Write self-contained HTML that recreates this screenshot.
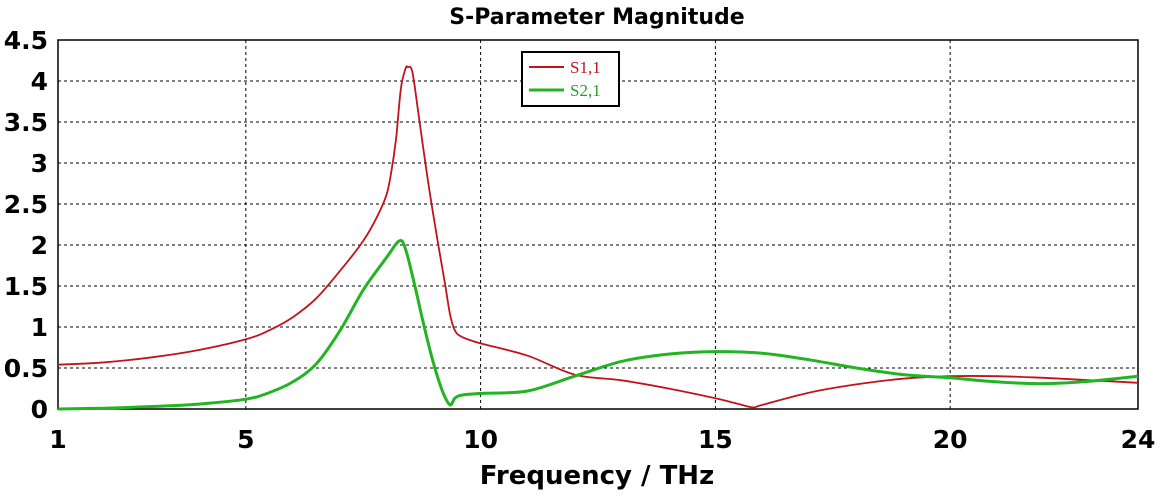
<!DOCTYPE html>
<html><head><meta charset="utf-8"><style>
body{margin:0;background:#fff;}
svg text{font-family:"DejaVu Sans","Liberation Sans",sans-serif;font-weight:bold;}
</style></head><body>
<svg id="chart" width="1163" height="495" xmlns="http://www.w3.org/2000/svg">
<text x="597" y="24" text-anchor="middle" font-size="22">S-Parameter Magnitude</text>
<g id="grid"></g>
<rect x="58" y="40" width="1080" height="369" fill="none" stroke="#000" stroke-width="1.5"/>
<g id="ticks"></g>
<g id="series"></g>
<text x="597" y="484" text-anchor="middle" font-size="26">Frequency / THz</text>
<g>
<rect x="522" y="52" width="97" height="54" fill="#fff" stroke="#000" stroke-width="2"/>
<line x1="529" y1="67" x2="564" y2="67" stroke="#c0141c" stroke-width="2"/>
<text x="570" y="73" font-size="17" fill="#c0141c" style="font-family:'Liberation Serif',serif;font-weight:normal">S1,1</text>
<line x1="529" y1="90" x2="564" y2="90" stroke="#22b422" stroke-width="3"/>
<text x="570" y="96" font-size="17" fill="#22a022" style="font-family:'Liberation Serif',serif;font-weight:normal">S2,1</text>
</g>
</svg>
<script>
const xTicks=[1,5,10,15,20,24];
const yTicks=[0,0.5,1,1.5,2,2.5,3,3.5,4,4.5];
const yTickLabels=["0","0.5","1","1.5","2","2.5","3","3.5","4","4.5"];
const s11Freq=[1,2,3,4,5,5.5,6,6.5,7,7.5,7.8,8,8.1,8.2,8.3,8.4,8.45,8.55,8.7,8.9,9.1,9.25,9.35,9.45,9.6,10,11,12,13,14,15,15.5,15.8,16,17,18,19,20,21,22,23,24];
const s11Vals=[0.54,0.57,0.63,0.72,0.85,0.96,1.12,1.35,1.68,2.05,2.35,2.62,2.9,3.3,3.9,4.15,4.17,4.1,3.5,2.7,2.0,1.5,1.15,0.96,0.88,0.8,0.65,0.42,0.35,0.25,0.13,0.06,0.02,0.05,0.2,0.3,0.37,0.4,0.4,0.38,0.35,0.32];
const s21Freq=[1,2,3,4,5,5.5,6,6.5,7,7.5,8,8.27,8.4,8.6,8.8,9,9.2,9.35,9.45,9.6,10,11,12,13,14,15,16,17,18,19,20,21,22,23,24];
const s21Vals=[0,0.01,0.03,0.06,0.12,0.2,0.33,0.55,0.95,1.45,1.85,2.05,1.95,1.5,1.0,0.55,0.2,0.05,0.13,0.17,0.19,0.22,0.4,0.58,0.67,0.7,0.68,0.6,0.5,0.42,0.38,0.33,0.31,0.34,0.4];
const NS="http://www.w3.org/2000/svg";
const X=f=>58+(f-1)*(1080/23);
const Y=v=>409-v*(369/4.5);
function mk(t,a,p){const e=document.createElementNS(NS,t);for(const k in a)e.setAttribute(k,a[k]);p.appendChild(e);return e;}
const grid=document.getElementById('grid'),ticks=document.getElementById('ticks'),ser=document.getElementById('series');
xTicks.forEach(f=>{
 if(f>1&&f<24){const l=mk('line',{x1:X(f),x2:X(f),y1:40,y2:409,stroke:'#000','stroke-dasharray':'3,3'},grid);
 
 }
 const t=mk('text',{x:X(f),y:448,'text-anchor':'middle','font-size':25},ticks);t.textContent=f;
 
 
});
yTicks.forEach((v,i)=>{
 if(v>0&&v<4.5){const l=mk('line',{x1:58,x2:1138,y1:Y(v),y2:Y(v),stroke:'#000','stroke-dasharray':'3,3'},grid);
 
 }
 const t=mk('text',{x:48,y:Y(v)+9,'text-anchor':'end','font-size':25},ticks);t.textContent=yTickLabels[i];
 
 
});
function line(fs,vs,col,w,name){
 const P=fs.map((f,i)=>[X(f),Y(vs[i])]);
 let d='M'+P[0][0].toFixed(1)+','+P[0][1].toFixed(1);
 for(let i=0;i<P.length-1;i++){
  const p0=P[Math.max(0,i-1)],p1=P[i],p2=P[i+1],p3=P[Math.min(P.length-1,i+2)];
  const c1=[p1[0]+(p2[0]-p0[0])/6,p1[1]+(p2[1]-p0[1])/6];
  const c2=[p2[0]-(p3[0]-p1[0])/6,p2[1]-(p3[1]-p1[1])/6];
  d+='C'+c1.map(n=>n.toFixed(1)).join(',')+' '+c2.map(n=>n.toFixed(1)).join(',')+' '+p2.map(n=>n.toFixed(1)).join(',');
 }
 const p=mk('path',{d:d,fill:'none',stroke:col,'stroke-width':w,'stroke-linejoin':'round'},ser);
 
 
}
line(s11Freq,s11Vals,'#c0141c',1.8,'s11-line');
line(s21Freq,s21Vals,'#22b422',3,'s21-line');
</script>
</body></html>
